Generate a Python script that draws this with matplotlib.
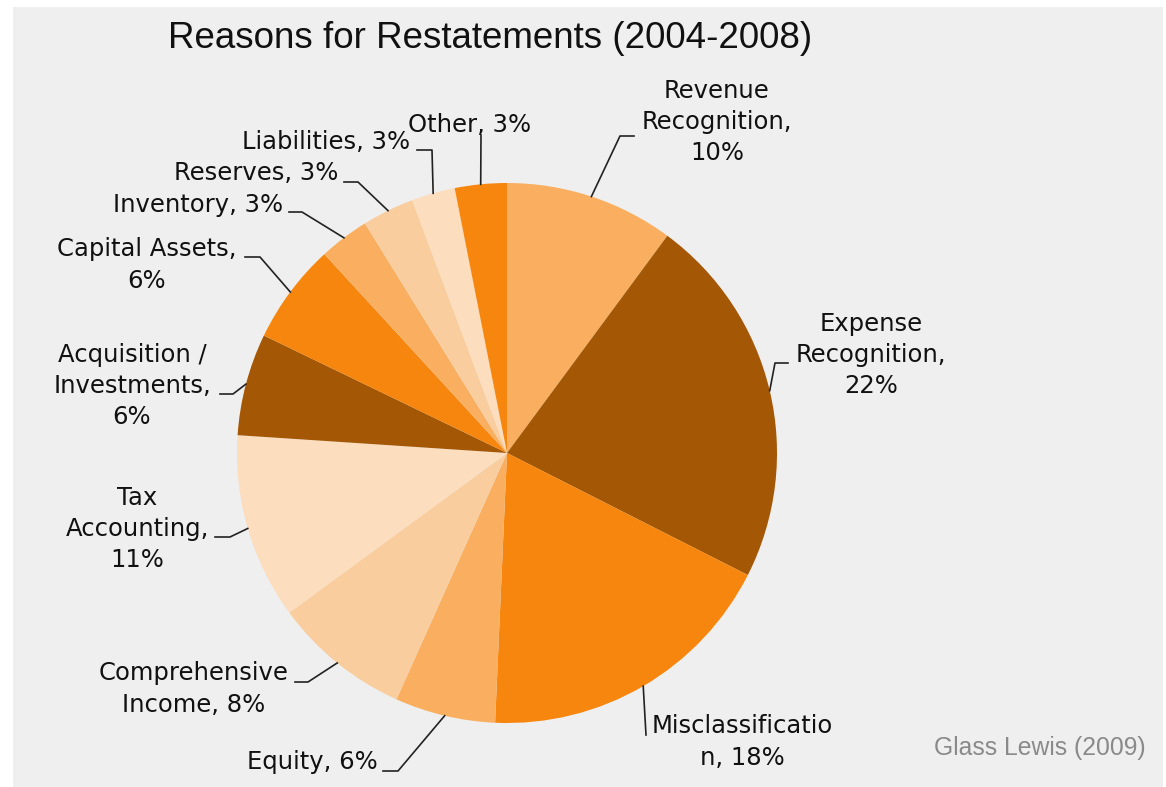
import numpy as np
import matplotlib.pyplot as plt
from matplotlib.patches import Rectangle

# ==================== data ====================
reasons = ['Revenue\nRecognition,\n10%', 'Expense\nRecognition,\n22%',
           'Misclassificatio\nn, 18%', 'Equity, 6%', 'Comprehensive\nIncome, 8%',
           'Tax\nAccounting,\n11%', 'Acquisition /\nInvestments,\n6%',
           'Capital Assets,\n6%', 'Inventory, 3%', 'Reserves, 3%',
           'Liabilities, 3%', 'Other, 3%']
# share of restatements (%)
shares = [10.1, 22.3, 18.2, 6.0, 8.2, 11.1, 6.1, 6.0, 3.0, 3.1, 2.6, 3.1]
colors = ['#F9AF5F', '#A45704', '#F7860F', '#F9AF5F', '#FACD9E', '#FCDDBD',
          '#A45704', '#F7860F', '#F9AF5F', '#FACD9E', '#FCDDBD', '#F7860F']

# ==================== layout (pixel coords, y down) ====================
W, H = 1166, 787
cx, cy, R = 507, 453, 270

# label anchor, alignment, leader path (elbow points after pie edge)
label_pos = [
    (717, 122, 'center', [(620, 136), (634, 136)]),
    (871, 355, 'center', [(775, 363), (788, 363)]),
    (742, 742, 'center', [(646, 735)]),
    (378, 762, 'right', [(398, 771), (383, 771)]),
    (194, 689, 'center', [(308, 682), (295, 682)]),
    (137, 529, 'center', [(230, 537), (215, 537)]),
    (132, 386, 'center', [(233, 394), (220, 394)]),
    (147, 265, 'center', [(260, 257), (245, 257)]),
    (283, 205, 'right', [(302, 212), (289, 212)]),
    (338, 173, 'right', [(358, 182), (344, 182)]),
    (410, 142, 'right', [(432, 150), (417, 150)]),
    (470, 125, 'center', [(481, 135)]),
]


def px(x, y):
    # pixel position (y down) -> data coords (y up)
    return x, H - y


fig = plt.figure(figsize=(W / 100, H / 100), dpi=100)
fig.patch.set_facecolor('white')
ax = fig.add_axes([0, 0, 1, 1])

# grey panel
ax.add_patch(Rectangle(px(13, 787), 1150, 780, facecolor='#EFEFEF', edgecolor='none', zorder=0))

wedges, _ = ax.pie(shares, colors=colors, startangle=90, counterclock=False,
                   center=px(cx, cy), radius=R, frame=True,
                   wedgeprops=dict(linewidth=0, antialiased=True))
ax.set_xlim(0, W)
ax.set_ylim(0, H)
ax.set_aspect('equal')
ax.axis('off')

# ==================== labels + leader lines ====================
for w, text, (lx, ly, ha, path) in zip(wedges, reasons, label_pos):
    mid = np.deg2rad((w.theta1 + w.theta2) / 2)
    sx, sy = cx + R * np.cos(mid), cy - R * np.sin(mid)
    pts = [(sx, sy)] + path
    xs = [p[0] for p in pts]
    ys = [H - p[1] for p in pts]
    ax.plot(xs, ys, color='#222222', lw=1.2, zorder=3)
    ax.text(*px(lx, ly), text, ha=ha, va='center', fontsize=17.5,
            family='DejaVu Sans', color='#111111', linespacing=1.38, zorder=4)

ax.text(*px(490, 39), 'Reasons for Restatements (2004-2008)', ha='center', va='center',
        fontsize=26.5, family='Liberation Sans', color='#111111')
ax.text(*px(1146, 748), 'Glass Lewis (2009)', ha='right', va='center',
        fontsize=17.8, family='Liberation Sans', color='#8A8A8A')

plt.savefig('out.png', dpi=100, facecolor='white')
